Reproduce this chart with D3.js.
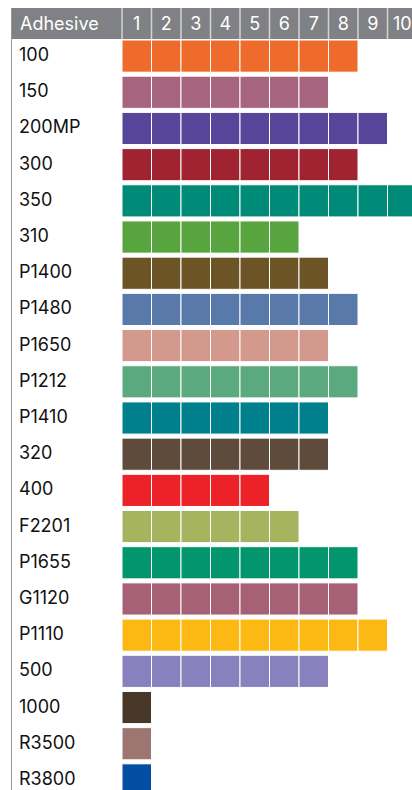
<!DOCTYPE html>
<html>
<head>
<meta charset="utf-8">
<script src="https://cdn.jsdelivr.net/npm/d3@7"></script>
<style>
body { margin: 0; background: #fff; }
svg { display: block; font-family: Inter, "Noto Sans", sans-serif; }
</style>
</head>
<body>
<div class="chart"></div>
<script>
const adhesives = ['100','150','200MP','300','350','310','P1400','P1480','P1650','P1212','P1410','320','400','F2201','P1655','G1120','P1110','500','1000','R3500','R3800']
const scores = [8,7,9,8,10,6,7,8,7,8,7,7,5,6,8,8,9,7,1,1,1]
const colours = ['#ee6b2b','#a6647f','#56469a','#9f2330','#008a78','#58a43f','#6c5426','#5a79ab','#d2998c','#5ba97f','#00808d','#5e4b3c','#ed2229','#a6b45f','#03956d','#a66176','#fdb913','#8981bd','#48382a','#9e7671','#034ea2']
const ticks = [1,2,3,4,5,6,7,8,9,10]

const width = 412
const height = 790
const headTop = 8
const headH = 31
const rowStep = 36

var chart = d3.select('.chart').append('svg').attr('width', width).attr('height', height)

var xscale = d3.scaleLinear().domain([0, 10]).range([122, 122 + 29.5 * 10])
var yscale = d3.scaleBand().domain(adhesives)
    .range([headTop + headH + 1, headTop + headH + 1 + rowStep * adhesives.length])
    .paddingInner(4 / 36).paddingOuter(0).align(0)

// header
chart.append('rect').attr('x', 11).attr('y', headTop).attr('width', width - 11).attr('height', headH).attr('fill', '#808184')
chart.append('text').attr('x', 20).attr('y', headTop + 22).attr('fill', '#fff').attr('font-size', 18).text('Adhesive')

chart.selectAll('.col-line').data(d3.range(0, 10)).enter().append('line')
    .attr('x1', d => xscale(d)).attr('x2', d => xscale(d))
    .attr('y1', headTop).attr('y2', headTop + headH)
    .attr('stroke', '#d4d4d6').attr('stroke-width', 1.5)

chart.selectAll('.tick-label').data(ticks).enter().append('text')
    .attr('x', d => xscale(d - 0.5))
    .attr('y', headTop + 22)
    .attr('text-anchor', 'middle')
    .attr('fill', '#fff')
    .attr('font-size', 18)
    .text(d => d)

// left rule
chart.append('line').attr('x1', 11.5).attr('x2', 11.5).attr('y1', headTop).attr('y2', height)
    .attr('stroke', '#9a9a9c').attr('stroke-width', 1)

// row labels
chart.selectAll('.row-label').data(adhesives).enter().append('text')
    .attr('x', 19)
    .attr('y', d => yscale(d) + yscale.bandwidth() / 2 + 5)
    .attr('fill', '#111')
    .attr('font-size', 18)
    .text(d => d)

// cells
adhesives.forEach((a, i) => {
    chart.append('g').selectAll('rect').data(d3.range(scores[i])).enter().append('rect')
        .attr('x', c => xscale(c))
        .attr('y', yscale(a))
        .attr('width', xscale(1) - xscale(0))
        .attr('height', yscale.bandwidth())
        .attr('fill', colours[i])
        .attr('stroke', '#fff')
        .attr('stroke-width', 1)
})
</script>
</body>
</html>
